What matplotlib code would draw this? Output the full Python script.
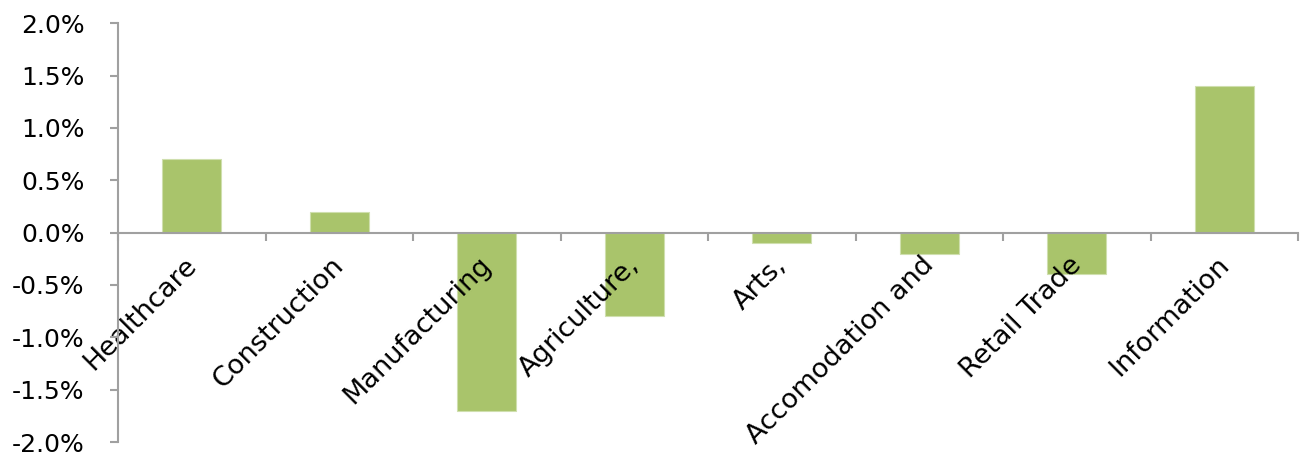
import numpy as np
import matplotlib.pyplot as plt
import matplotlib.transforms as mtransforms
from matplotlib.ticker import FuncFormatter

categories = ['Healthcare', 'Construction', 'Manufacturing', 'Agriculture,',
              'Arts,', 'Accomodation and', 'Retail Trade', 'Information']
values = [0.7, 0.2, -1.7, -0.8, -0.1, -0.2, -0.4, 1.4]  # percent
y_ticks = [-2.0, -1.5, -1.0, -0.5, 0.0, 0.5, 1.0, 1.5, 2.0]

grey = '#A0A0A0'
plt.rcParams['font.family'] = ['DejaVu Sans']

fig = plt.figure(figsize=(13.06, 4.54), dpi=100)
ax = fig.add_axes([0.0904, 0.0264, 0.9035, 0.9226])

x = np.arange(len(categories))
ax.bar(x, values, width=0.4, color='#A9C46B', edgecolor='#CFDFAE', linewidth=0.8, zorder=2)
ax.set_axisbelow(False)

ax.set_xlim(-0.5, len(categories) - 0.5)
ax.set_ylim(-2.0, 2.0)
ax.set_yticks(y_ticks)
ax.yaxis.set_major_formatter(FuncFormatter(lambda v, p: f'{v:.1f}%'))

for s in ['top', 'right']:
    ax.spines[s].set_visible(False)
ax.spines['bottom'].set_position(('data', 0))
for s in ['left', 'bottom']:
    ax.spines[s].set_color(grey)
    ax.spines[s].set_linewidth(1.5)
    ax.spines[s].set_zorder(3)

ax.tick_params(axis='y', direction='out', length=6, width=1.5, color=grey,
               labelsize=18, pad=18)
ax.set_xticks(x)
ax.set_xticklabels(categories, rotation=45, ha='right', rotation_mode='anchor')
ax.set_xticks(np.arange(-0.5, len(categories)), minor=True)
ax.tick_params(axis='x', which='major', length=0, labelsize=19.5, pad=14)
ax.tick_params(axis='x', which='minor', direction='out', length=6, width=1.5, color=grey)

# nudge the category labels a little to the left
shift = mtransforms.ScaledTranslation(-6 / 72, 0, fig.dpi_scale_trans)
for lab in ax.get_xticklabels():
    lab.set_transform(lab.get_transform() + shift)

fig.savefig('out.png', dpi=100)
